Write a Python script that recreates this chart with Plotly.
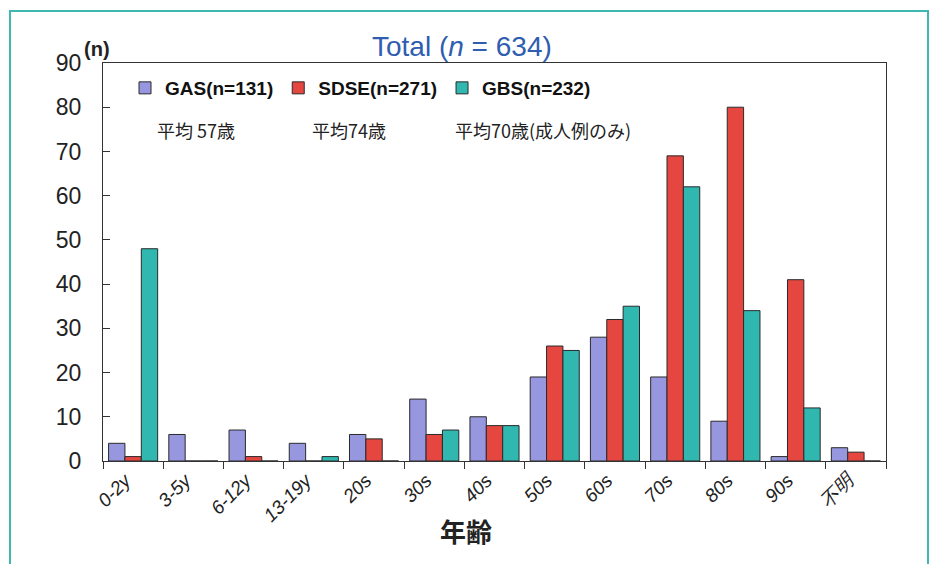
import plotly.graph_objects as go

# Age-group distribution of invasive streptococcal infections
age_groups = ["0-2y", "3-5y", "6-12y", "13-19y", "20s", "30s", "40s",
              "50s", "60s", "70s", "80s", "90s", "不明"]
gas = [4, 6, 7, 4, 6, 14, 10, 19, 28, 19, 9, 1, 3]
sdse = [1, 0, 1, 0, 5, 6, 8, 26, 32, 69, 80, 41, 2]
gbs = [48, 0, 0, 1, 0, 7, 8, 25, 35, 62, 34, 12, 0]

series_names = ["GAS(n=131)", "SDSE(n=271)", "GBS(n=232)"]
series_colors = ["#9797e0", "#e5463f", "#2fb7b0"]
mean_age_notes = ["平均 57歳", "平均74歳", "平均70歳(成人例のみ)"]
y_ticks = list(range(0, 91, 10))

W, H = 931, 564
L, R, T, B = 103, 45, 63, 103
PW, PH = W - L - R, H - T - B


def px_x(px):
    return (px - L) / PW


def px_y(py):
    return (H - B - py) / PH


fig = go.Figure()
for name, vals, col in zip(series_names, [gas, sdse, gbs], series_colors):
    fig.add_trace(go.Bar(
        x=age_groups, y=vals, name=name,
        marker=dict(color=col, line=dict(color="#2a2a2a", width=1)),
    ))

latin = "Liberation Sans, Arial, sans-serif"
cjk = "Noto Sans CJK JP, sans-serif"

annotations = [
    dict(text="Total (<i>n</i> = 634)", x=px_x(462), y=px_y(46),
         xref="paper", yref="paper", xanchor="center", yanchor="middle",
         showarrow=False, font=dict(family=latin, size=28, color="#2f5db0")),
    dict(text="(n)", x=px_x(82), y=px_y(49),
         xref="paper", yref="paper", xanchor="left", yanchor="middle",
         showarrow=False, font=dict(family=latin, size=20, color="#222", weight="bold")),
    dict(text="年齢", x=px_x(466), y=px_y(530),
         xref="paper", yref="paper", xanchor="center", yanchor="middle",
         showarrow=False, font=dict(family=cjk, size=26, color="#222", weight="bold")),
]
for note, left in zip(mean_age_notes, [155, 310, 453]):
    annotations.append(dict(
        text=note, x=px_x(left), y=px_y(130), xref="paper", yref="paper",
        xanchor="left", yanchor="middle", showarrow=False,
        font=dict(family=cjk, size=18, color="#222")))

fig.update_layout(
    width=W, height=H, autosize=False,
    margin=dict(l=L, r=R, t=T, b=B),
    paper_bgcolor="white", plot_bgcolor="white",
    barmode="group", bargap=0.185, bargroupgap=0,
    legend=dict(orientation="h", x=px_x(125), y=px_y(88),
                xanchor="left", yanchor="middle",
                font=dict(family=latin, size=19, color="#111", weight="bold"),
                bgcolor="rgba(0,0,0,0)", itemwidth=30, itemclick=False),
    annotations=annotations,
    shapes=[dict(type="rect", xref="paper", yref="paper",
                 x0=px_x(10), x1=px_x(928), y0=px_y(575), y1=px_y(11),
                 line=dict(color="#3fb8b0", width=2), layer="below")],
    xaxis=dict(
        type="category", tickson="boundaries", ticks="outside", ticklen=7,
        tickcolor="#333", showline=True, linecolor="#333", linewidth=1,
        mirror=True, tickangle=-45, showgrid=False, ticklabelshift=-8,
        tickfont=dict(family=latin, size=19, color="#222", style="italic"),
    ),
    yaxis=dict(
        range=[0, 90], tickvals=y_ticks, ticks="inside", ticklen=7,
        tickcolor="#333", showline=True, linecolor="#333", linewidth=1,
        mirror=True, showgrid=False, zeroline=False, ticklabelstandoff=16,
        tickfont=dict(family=latin, size=23, color="#222"),
    ),
)

fig.write_html("out.html")
